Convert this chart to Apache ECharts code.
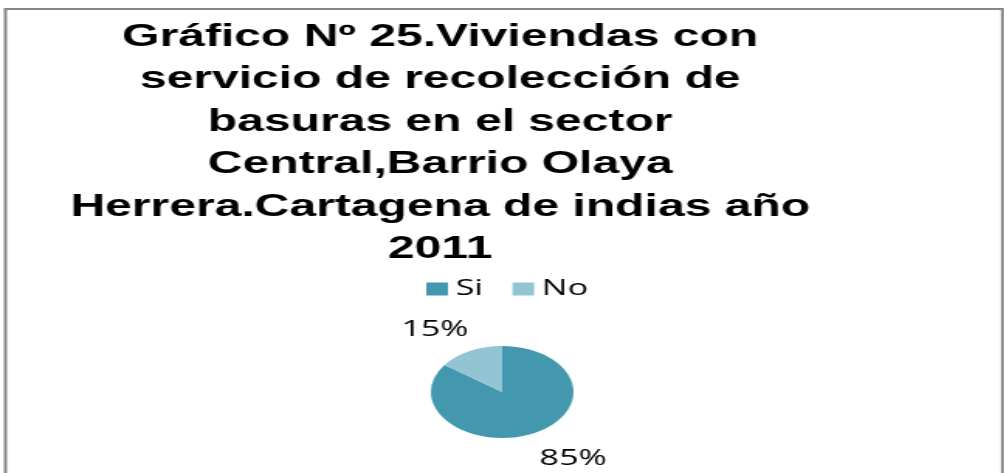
<!DOCTYPE html>
<html>
<head>
<meta charset="utf-8">
<script src="https://cdn.jsdelivr.net/npm/echarts@6/dist/echarts.min.js"></script>
<style>
  html, body { margin: 0; padding: 0; background: #ffffff; overflow: hidden; }
  /* the source picture is stretched sideways, so the chart is drawn narrow and widened */
  #wrap { width: 1005px; height: 473px; overflow: hidden; }
  #chart { width: 648px; height: 473px; transform: scaleX(1.55); transform-origin: 0 0; }
</style>
</head>
<body>
<div id="wrap"><div id="chart"></div></div>
<script>
// datos
const categories = ["Si", "No"];
const values = [85, 15];
const colors = ["#4398b0", "#93c4d4"];
const titleLines = [
  "Gráfico Nº 25.Viviendas con",
  "servicio de recolección de",
  "basuras en el sector",
  "Central,Barrio Olaya",
  "Herrera.Cartagena de indias año",
  "2011"
];

var myChart = echarts.init(document.getElementById("chart"));

var option = {
  backgroundColor: "#ffffff",
  animation: false,
  //borde del gráfico
  graphic: [
    {
      type: "rect",
      silent: true,
      shape: { x: 3.5, y: 9, width: 643.3, height: 500 },
      style: { fill: "none", stroke: "#868686", lineWidth: 2 }
    }
  ],
  //título
  title: {
    text: titleLines.join("\n"),
    left: 284,
    top: 16,
    padding: 0,
    textAlign: "center",
    textStyle: {
      fontFamily: "Liberation Sans, Arial, sans-serif",
      fontWeight: "bold",
      fontSize: 31,
      lineHeight: 42.5,
      color: "#000000"
    }
  },
  //leyenda
  legend: {
    data: categories,
    left: 270,
    top: 273,
    icon: "rect",
    itemWidth: 14,
    itemHeight: 13,
    itemGap: 19,
    textStyle: {
      fontFamily: "Open Sans, sans-serif",
      fontSize: 22,
      color: "#000000"
    }
  },
  series: [
    {
      type: "pie",
      center: [324, 392],
      radius: 46,
      startAngle: 90,
      clockwise: true,
      silent: true,
      label: {
        show: true,
        position: "outside",
        formatter: "{d}%",
        fontFamily: "Open Sans, sans-serif",
        fontSize: 22,
        color: "#000000",
        distanceToLabelLine: -10
      },
      labelLine: { show: false, length: 26, length2: 0 },
      data: categories.map(function (name, i) {
        return {
          name: name,
          value: values[i],
          itemStyle: { color: colors[i] },
          labelLine: { length: i === 0 ? 29 : 24, length2: 0 }
        };
      })
    }
  ]
};

myChart.setOption(option);
</script>
</body>
</html>
